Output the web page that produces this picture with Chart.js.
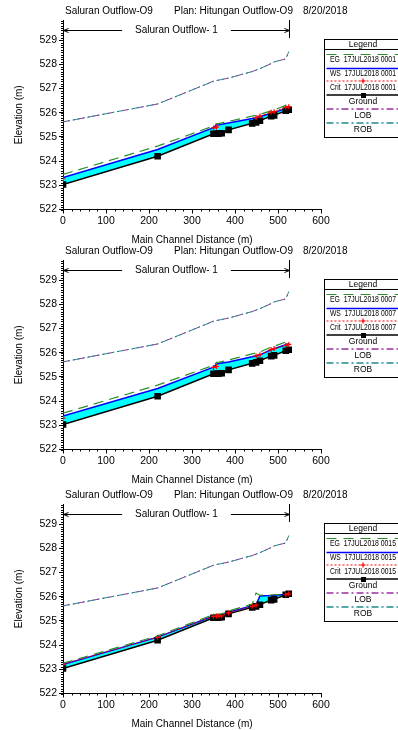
<!DOCTYPE html>
<html>
<head>
<meta charset="utf-8">
<title>Saluran Outflow-O9</title>
<script src="https://cdn.jsdelivr.net/npm/chart.js@4.4.1/dist/chart.umd.min.js"></script>
<style>
  body { margin: 0; background: #fff; }
  .panel { position: absolute; left: 0; width: 398px; height: 246px; }
</style>
</head>
<body>
<div class="panel" style="top:0px"><canvas id="p0001" width="398" height="246"></canvas></div>
<div class="panel" style="top:240px"><canvas id="p0007" width="398" height="246"></canvas></div>
<div class="panel" style="top:484px"><canvas id="p0015" width="398" height="246"></canvas></div>
<script>
// cross section stations along the main channel (m)
const stations = [0, 220, 350, 357, 363, 369, 385, 440, 449, 458, 484, 491, 518, 525];
const groundElev = [523.03, 524.20, 525.13, 525.13, 525.14, 525.15, 525.29, 525.56, 525.60, 525.67, 525.86, 525.89, 526.08, 526.12];
const lobElev = [525.62, 526.36, 527.30, 527.33, 527.35, 527.37, 527.43, 527.70, 527.76, 527.82, 528.03, 528.10, 528.22, 528.52];
const robElev = [525.62, 526.36, 527.30, 527.33, 527.35, 527.37, 527.43, 527.70, 527.76, 527.82, 528.03, 528.10, 528.22, 528.52];

// profile 17JUL2018 0001
const ws0001 = [523.32, 524.48, 525.38, 525.49, 525.50, 525.52, 525.57, 525.76, 525.80, 525.83, 525.98, 526.01, 526.18, 526.22];
const eg0001 = [523.45, 524.62, 525.45, 525.55, 525.56, 525.58, 525.64, 525.86, 525.90, 525.93, 526.08, 526.11, 526.30, 526.33];
const crit0001 = [523.27, null, 525.37, 525.40, null, null, null, null, 525.80, 525.86, 526.02, 526.04, 526.22, 526.25];

// profile 17JUL2018 0007
const ws0007 = [523.38, 524.52, 525.40, 525.53, 525.55, 525.57, 525.62, 525.83, 525.87, 525.91, 526.12, 526.16, 526.33, 526.37];
const eg0007 = [523.50, 524.66, 525.48, 525.60, 525.61, 525.63, 525.70, 525.95, 525.99, 526.03, 526.23, 526.27, 526.44, 526.48];
const crit0007 = [523.30, null, 525.39, 525.43, null, null, null, null, 525.86, 525.92, 526.13, 526.17, 526.30, 526.34];

// profile 17JUL2018 0015
const ws0015 = [523.20, 524.33, 525.20, 525.21, 525.22, 525.23, 525.36, 525.63, 525.66, 526.03, 526.05, 526.06, 526.09, 526.14];
const eg0015 = [523.25, 524.38, 525.26, 525.27, 525.28, 525.29, 525.41, 525.69, 526.15, 526.06, 526.07, 526.08, 526.10, 526.15];
const crit0015 = [523.20, 524.32, 525.19, 525.20, 525.20, 525.21, 525.33, 525.60, 525.65, null, null, null, 526.08, 526.12];

const xTicks = [0, 100, 200, 300, 400, 500, 600];
const yTicks = [522, 523, 524, 525, 526, 527, 528, 529];
const reachName = 'Saluran Outflow- 1';

const FONT = '"Liberation Sans", Arial, sans-serif';
const C = {
    eg: '#2a8f2a', ws: '#0000ff', crit: '#ff0000', ground: '#000000',
    lob: '#9b30a0', rob: '#1f8c8c', water: '#00ffff'
};

function pts(arr) {
    return stations.map((s, i) => ({ x: s, y: arr[i] }));
}

// title, reach arrow, minor ticks and the legend box
function decorations(profile) {
    return {
        id: 'hecras',
        afterDraw(chart) {
            const ctx = chart.ctx, xs = chart.scales.x, ys = chart.scales.y, area = chart.chartArea;
            ctx.save();
            ctx.fillStyle = '#000';
            ctx.strokeStyle = '#000';
            ctx.lineWidth = 1;
            ctx.font = '10px ' + FONT;
            ctx.textBaseline = 'middle';
            ctx.textAlign = 'left';
            ctx.fillText('Saluran Outflow-O9', 65, 11);
            ctx.fillText('Plan: Hitungan Outflow-O9', 174, 11);
            ctx.fillText('8/20/2018', 303, 11);

            // minor ticks
            ctx.beginPath();
            for (let i = 0; i <= 78; i++) {
                const y = Math.round(ys.getPixelForValue(522 + i / 10)) + 0.5;
                ctx.moveTo(area.left - 2, y);
                ctx.lineTo(area.left, y);
            }
            for (let v = 0; v <= 600; v += 20) {
                const x = Math.round(xs.getPixelForValue(v)) + 0.5;
                ctx.moveTo(x, area.bottom);
                ctx.lineTo(x, area.bottom + 2);
            }
            ctx.stroke();

            // reach extent
            const xa = Math.round(xs.getPixelForValue(stations[0])) + 0.5;
            const xb = Math.round(xs.getPixelForValue(stations[stations.length - 1])) + 0.5;
            const yr = 30.5;
            const mid = (xa + xb) / 2;
            ctx.textAlign = 'center';
            ctx.fillText(reachName, mid, yr);
            const half = ctx.measureText(reachName).width / 2 + 13;
            ctx.beginPath();
            ctx.moveTo(xa, yr); ctx.lineTo(mid - half, yr);
            ctx.moveTo(mid + half, yr); ctx.lineTo(xb, yr);
            ctx.moveTo(xa + 5, yr - 2); ctx.lineTo(xa, yr); ctx.lineTo(xa + 5, yr + 2);
            ctx.moveTo(xb - 5, yr - 2); ctx.lineTo(xb, yr); ctx.lineTo(xb - 5, yr + 2);
            ctx.moveTo(xb, area.top); ctx.lineTo(xb, 38);
            ctx.stroke();

            // legend
            const lx = 324.5, ly = 39.5, lw = 100, lh = 98;
            ctx.fillStyle = '#fff';
            ctx.fillRect(lx, ly, lw, lh);
            ctx.fillStyle = '#000';
            ctx.strokeStyle = '#000';
            ctx.lineWidth = 1;
            ctx.strokeRect(lx, ly, lw, lh);
            ctx.beginPath();
            ctx.moveTo(lx, 49.5); ctx.lineTo(lx + lw, 49.5);
            ctx.stroke();
            ctx.font = '8.5px ' + FONT;
            ctx.textAlign = 'center';
            ctx.fillText('Legend', 363, 44.5);

            const cx = 363;
            const entries = [
                { y: 54.5, color: C.eg, dash: [10, 7], width: 1.2, text: 'EG  17JUL2018 ' + profile, ty: 60 },
                { y: 68.5, color: C.ws, dash: [], width: 1.5, text: 'WS  17JUL2018 ' + profile, ty: 74 },
                { y: 81, color: C.crit, dash: [2, 2], width: 1.2, text: 'Crit  17JUL2018 ' + profile, ty: 87.5, mark: 'cross' },
                { y: 95, color: C.ground, dash: [], width: 1.5, text: 'Ground', ty: 101.5, mark: 'rect', center: true },
                { y: 109, color: C.lob, dash: [7, 3, 2, 3], width: 1.3, text: 'LOB', ty: 116, center: true },
                { y: 123, color: C.rob, dash: [7, 3, 2, 3], width: 1.3, text: 'ROB', ty: 130, center: true }
            ];
            entries.forEach(e => {
                ctx.save();
                ctx.strokeStyle = e.color;
                ctx.lineWidth = e.width || 1;
                ctx.setLineDash(e.dash);
                ctx.beginPath();
                ctx.moveTo(lx + 2, e.y);
                ctx.lineTo(398, e.y);
                ctx.stroke();
                ctx.setLineDash([]);
                if (e.mark === 'cross') {
                    ctx.beginPath();
                    ctx.moveTo(cx - 2.5, e.y); ctx.lineTo(cx + 2.5, e.y);
                    ctx.moveTo(cx, e.y - 2.5); ctx.lineTo(cx, e.y + 2.5);
                    ctx.stroke();
                } else if (e.mark === 'rect') {
                    ctx.fillStyle = e.color;
                    ctx.fillRect(cx - 2, e.y - 2, 5, 5);
                }
                ctx.restore();
                if (e.center) {
                    ctx.textAlign = 'center';
                    ctx.fillText(e.text, cx, e.ty);
                } else {
                    ctx.textAlign = 'left';
                    ctx.fillText(e.text, 330, e.ty, 66);
                }
            });
            ctx.restore();
        }
    };
}

function makeChart(id, ws, eg, crit, profile) {
    const ctx = document.getElementById(id).getContext('2d');
    return new Chart(ctx, {
        type: 'line',
        data: {
            datasets: [
                { label: 'Ground', data: pts(groundElev), borderColor: C.ground, borderWidth: 1.5,
                  pointStyle: 'rect', pointRadius: 3.6, pointBackgroundColor: C.ground, pointBorderColor: C.ground,
                  fill: false, order: 2 },
                { label: 'WS ' + profile, data: pts(ws), borderColor: C.ws, borderWidth: 1.5, pointRadius: 0,
                  fill: '-1', backgroundColor: C.water, order: 3 },
                { label: 'EG ' + profile, data: pts(eg), borderColor: C.eg, borderWidth: 1.2, borderDash: [10, 6],
                  pointRadius: 0, fill: false, order: 1 },
                { label: 'Crit ' + profile, data: pts(crit), borderColor: C.crit, borderWidth: 1, borderDash: [2, 2],
                  pointStyle: 'cross', pointRadius: 2.5, pointBorderColor: C.crit, pointBorderWidth: 1.2,
                  fill: false, order: 0 },
                { label: 'LOB', data: pts(lobElev), borderColor: C.lob, borderWidth: 1, borderDash: [7, 3, 2, 3],
                  pointRadius: 0, fill: false, order: 5 },
                { label: 'ROB', data: pts(robElev), borderColor: C.rob, borderWidth: 1, borderDash: [7, 3, 2, 3],
                  borderDashOffset: 5, pointRadius: 0, fill: false, order: 4 }
            ]
        },
        options: {
            responsive: false,
            animation: false,
            events: [],
            layout: { padding: { top: 20, right: 77, left: 0, bottom: 0 } },
            elements: { line: { tension: 0 } },
            plugins: {
                legend: { display: false },
                tooltip: { enabled: false },
                title: { display: false }
            },
            scales: {
                x: {
                    type: 'linear', min: 0, max: 600,
                    afterBuildTicks: s => { s.ticks = xTicks.map(v => ({ value: v })); },
                    afterFit: s => { s.height = 36.5; },
                    grid: { drawOnChartArea: false, tickLength: 4, color: '#000' },
                    border: { color: '#000', width: 1 },
                    ticks: { color: '#000', font: { size: 10.5, family: FONT }, padding: 1, maxRotation: 0 },
                    title: { display: true, text: 'Main Channel Distance (m)', color: '#000',
                             font: { size: 10, family: FONT }, padding: 0 }
                },
                y: {
                    type: 'linear', min: 522, max: 529.83,
                    afterBuildTicks: s => { s.ticks = yTicks.map(v => ({ value: v })); },
                    afterFit: s => { s.width = 63; },
                    grid: { drawOnChartArea: false, tickLength: 4, color: '#000' },
                    border: { color: '#000', width: 1 },
                    ticks: { color: '#000', font: { size: 10.5, family: FONT }, padding: 2 },
                    title: { display: true, text: 'Elevation (m)', color: '#000',
                             font: { size: 10, family: FONT }, padding: { top: 13 } }
                }
            }
        },
        plugins: [decorations(profile)]
    });
}

makeChart('p0001', ws0001, eg0001, crit0001, '0001');
makeChart('p0007', ws0007, eg0007, crit0007, '0007');
makeChart('p0015', ws0015, eg0015, crit0015, '0015');
</script>
</body>
</html>
